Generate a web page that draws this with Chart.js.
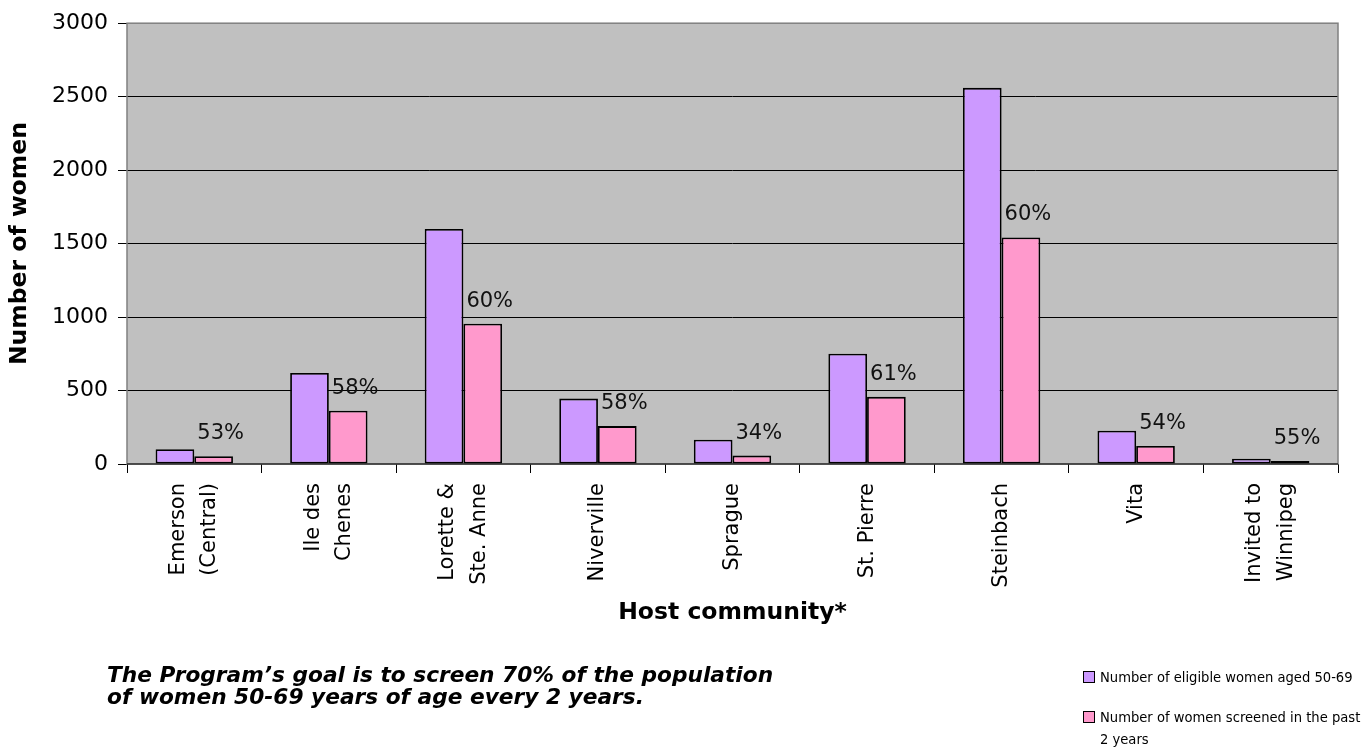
<!DOCTYPE html>
<html>
<head>
<meta charset="utf-8">
<script src="https://cdn.jsdelivr.net/npm/chart.js@4/dist/chart.umd.min.js"></script>
<style>
html,body{margin:0;padding:0;background:#fff;width:1364px;height:753px;overflow:hidden;}
#wrap{position:absolute;left:0;top:0;width:1364px;height:753px;overflow:hidden;}
canvas{position:absolute;left:0;top:0;}
.note{position:absolute;left:107px;top:664px;font:oblique bold 21.7px "DejaVu Sans",sans-serif;line-height:22px;color:#000;white-space:nowrap;}
.legend{position:absolute;left:1083px;top:666px;font:14.6px "DejaVu Sans Condensed","DejaVu Sans",sans-serif;line-height:22px;color:#000;white-space:nowrap;}
.legend .item{position:relative;padding-left:17px;margin-bottom:18px;}
.legend .sw{position:absolute;left:0;top:5px;width:10px;height:10px;border:1px solid #000;}
</style>
</head>
<body>
<div id="wrap">
<canvas id="c" width="1364" height="753"></canvas>
<div class="note">The Program’s goal is to screen 70% of the population<br>of women 50-69 years of age every 2 years.</div>
<div class="legend" id="legend"></div>
</div>
<script>
const categories = [["Emerson","(Central)"],["Ile des","Chenes"],["Lorette &","Ste. Anne"],"Niverville","Sprague","St. Pierre","Steinbach","Vita",["Invited to","Winnipeg"]];
const eligible = [100, 620, 1600, 445, 165, 750, 2560, 226, 36];
const screened = [53, 362, 955, 258, 57, 457, 1542, 122, 20];
const pctLabels = ["53%","58%","60%","58%","34%","61%","60%","54%","55%"];
const seriesNames = ["Number of eligible women aged 50-69", ["Number of women screened in the past","2 years"]];
const seriesColors = ["#CC99FF", "#FF99CC"];
const yMin = 0, yMax = 3000, yStep = 500;
const xTitle = "Host community*";
const yTitle = "Number of women";

const FONT = '"DejaVu Sans",sans-serif';
const X_FONT_SIZE = 21, X_LINE_HEIGHT = 1.5;

const plotDeco = {
  id: 'plotDeco',
  beforeDraw(chart) {
    const a = chart.chartArea, ctx = chart.ctx;
    ctx.save();
    ctx.fillStyle = '#C0C0C0';
    ctx.fillRect(a.left, a.top, a.right - a.left, a.bottom - a.top);
    ctx.restore();
  },
  beforeDatasetsDraw(chart) {
    const a = chart.chartArea, ctx = chart.ctx;
    ctx.save();
    ctx.strokeStyle = '#808080';
    ctx.lineWidth = 1.5;
    ctx.strokeRect(a.left, a.top, a.right - a.left, a.bottom - a.top);
    ctx.strokeStyle = '#000';
    ctx.lineWidth = 1.2;
    ctx.beginPath();
    ctx.moveTo(a.left, a.bottom);
    ctx.lineTo(a.right, a.bottom);
    ctx.stroke();
    ctx.restore();
  },
  afterDatasetsDraw(chart) {
    const ctx = chart.ctx;
    const meta = chart.getDatasetMeta(1);
    ctx.save();
    ctx.font = '21px ' + FONT;
    ctx.fillStyle = '#111';
    ctx.textAlign = 'left';
    ctx.textBaseline = 'bottom';
    meta.data.forEach((bar, i) => {
      const p = bar.getProps(['x','y','width'], true);
      ctx.fillText(pctLabels[i], p.x - p.width / 2 + 3, p.y - 12);
    });
    ctx.restore();
  }
};

// Center multi-line rotated category labels on their tick
function centerMultiline(scale) {
  if (scale._patchedCenter) return;
  scale._patchedCenter = true;
  const orig = scale._computeLabelItems.bind(scale);
  scale._computeLabelItems = function (area) {
    const items = orig(area);
    const lh = X_FONT_SIZE * X_LINE_HEIGHT;
    items.forEach(it => {
      if (Array.isArray(it.label) && it.label.length > 1) {
        it.options.translation[0] -= (it.label.length - 1) * lh / 2;
      }
    });
    return items;
  };
}

new Chart(document.getElementById('c'), {
  type: 'bar',
  data: {
    labels: categories,
    datasets: [
      { label: seriesNames[0], data: eligible, backgroundColor: seriesColors[0], borderColor: '#000', borderWidth: 1.8, borderSkipped: false },
      { label: seriesNames[1], data: screened, backgroundColor: seriesColors[1], borderColor: '#000', borderWidth: 1.8, borderSkipped: false }
    ]
  },
  options: {
    responsive: false,
    animation: false,
    devicePixelRatio: 1,
    layout: { padding: { left: 0, top: 22, right: 26, bottom: 123 } },
    datasets: { bar: { categoryPercentage: 0.575, barPercentage: 1.0 } },
    plugins: { legend: { display: false }, tooltip: { enabled: false } },
    scales: {
      x: {
        offset: true,
        grid: { offset: true, drawOnChartArea: false, tickLength: 9, color: '#000', lineWidth: 1 },
        border: { display: false },
        ticks: { autoSkip: false, minRotation: 90, maxRotation: 90, padding: 10, color: '#000', font: { family: FONT, size: X_FONT_SIZE, lineHeight: X_LINE_HEIGHT } },
        title: { display: true, text: xTitle, color: '#000', font: { family: FONT, size: 23.5, weight: 'bold' }, padding: { top: 4, bottom: 3 } },
        afterFit(scale) { scale.height = 166; },
        afterUpdate(scale) { centerMultiline(scale); }
      },
      y: {
        min: yMin, max: yMax,
        ticks: { stepSize: yStep, padding: 10, color: '#000', font: { family: FONT, size: 22 }, callback: (v) => String(v) },
        grid: {
          tickLength: 9,
          color: (c) => (c.tick && (c.tick.value === yMin || c.tick.value === yMax)) ? 'rgba(0,0,0,0)' : '#000',
          tickColor: '#000',
          lineWidth: 1
        },
        border: { display: false },
        title: { display: true, text: yTitle, color: '#000', font: { family: FONT, size: 23.5, weight: 'bold' }, padding: { top: 6, bottom: 2 } },
        afterFit(scale) { scale.width = 127; }
      }
    }
  },
  plugins: [plotDeco]
});

const lg = document.getElementById('legend');
seriesNames.forEach((n, i) => {
  const d = document.createElement('div');
  d.className = 'item';
  const sw = document.createElement('span');
  sw.className = 'sw';
  sw.style.background = seriesColors[i];
  d.appendChild(sw);
  const t = document.createElement('span');
  t.innerHTML = Array.isArray(n) ? n.join('<br>') : n;
  d.appendChild(t);
  lg.appendChild(d);
});
</script>
</body>
</html>
